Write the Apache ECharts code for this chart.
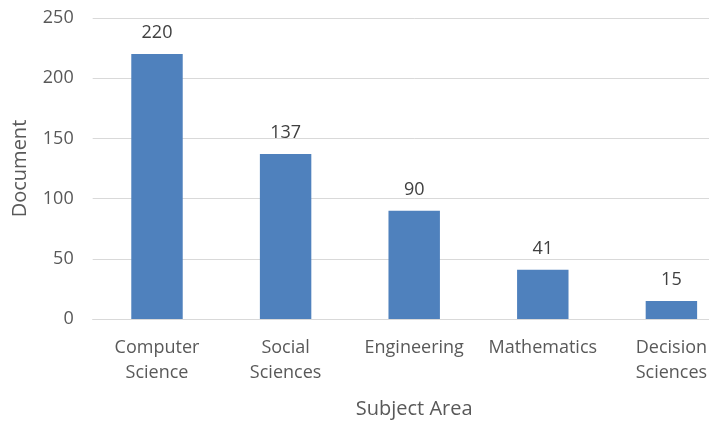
<!DOCTYPE html>
<html><head><meta charset="utf-8">
<script src="https://cdn.jsdelivr.net/npm/echarts@6/dist/echarts.min.js"></script>
<style>html,body{margin:0;padding:0;background:#fff;overflow:hidden;width:709px;height:421px}#c{width:760px;height:421px}</style>
</head><body><div id="c"></div>
<script>
const categories = ["Computer\nScience", "Social\nSciences", "Engineering", "Mathematics", "Decision\nSciences"];
const documents = [220, 137, 90, 41, 15];
const yTicks = [0, 50, 100, 150, 200, 250];

const chart = echarts.init(document.getElementById('c'), null, {renderer: 'canvas'});
const font = '"Open Sans", "Noto Sans", sans-serif';
chart.setOption({
  animation: false,
  textStyle: {fontFamily: font},
  grid: {left: 92.7, top: 18, width: 643, height: 301, containLabel: false, outerBoundsMode: 'none'},
  xAxis: {
    type: 'category', data: categories,
    name: 'Subject Area', nameLocation: 'middle', nameGap: 80,
    nameTextStyle: {color: '#595959', fontSize: 20, fontFamily: font},
    axisLine: {show: true, lineStyle: {color: '#d9d9d9', width: 1}},
    axisTick: {show: false},
    axisLabel: {color: '#595959', fontSize: 18, fontFamily: font, margin: 16, lineHeight: 25, interval: 0}
  },
  yAxis: {
    type: 'value', min: yTicks[0], max: yTicks[yTicks.length - 1], interval: 50,
    name: 'Document', nameLocation: 'middle', nameGap: 62,
    nameTextStyle: {color: '#595959', fontSize: 20, fontFamily: font},
    axisLine: {show: false}, axisTick: {show: false},
    axisLabel: {color: '#595959', fontSize: 18, fontFamily: font, margin: 19},
    splitLine: {lineStyle: {color: '#d9d9d9', width: 1}}
  },
  series: [{
    type: 'bar', data: documents, barWidth: '40%',
    itemStyle: {color: '#4f81bd'},
    label: {show: true, position: 'top', distance: 12, color: '#404040', fontSize: 18, fontFamily: font}
  }]
});
</script></body></html>
